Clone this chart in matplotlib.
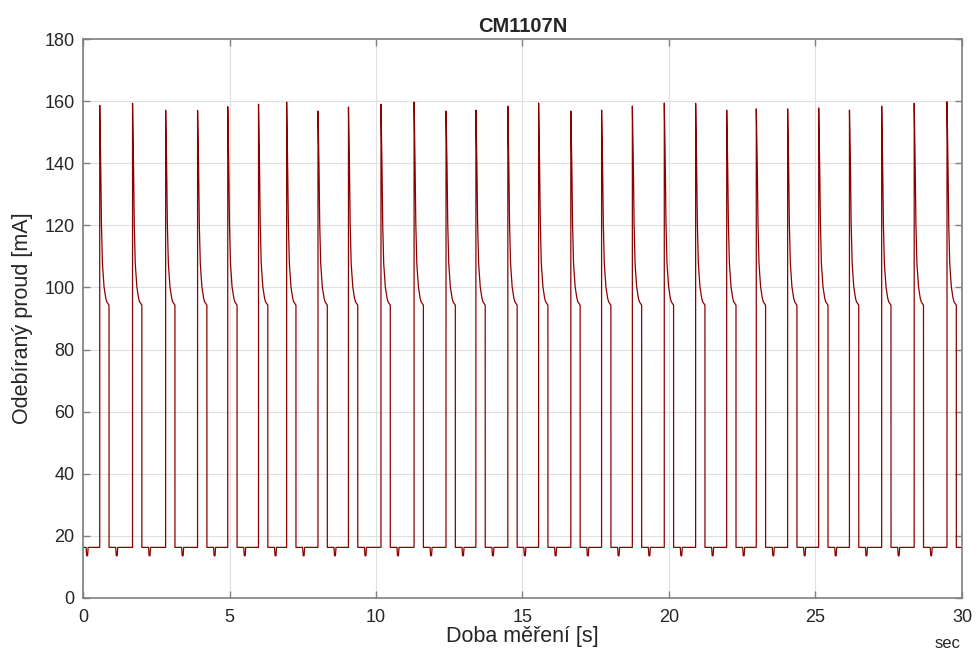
import numpy as np
import matplotlib
matplotlib.use("Agg")
import matplotlib.pyplot as plt

plt.rcParams['font.family'] = ['Liberation Sans', 'DejaVu Sans']

# pulse start times [s] and peak currents [mA]
pulse_t = [0.57, 1.69, 2.82, 3.91, 4.94, 5.99, 6.95, 8.02, 9.06, 10.17,
           11.30, 12.39, 13.41, 14.50, 15.55, 16.65, 17.70, 18.75, 19.84, 20.91,
           21.97, 22.98, 24.05, 25.11, 26.16, 27.26, 28.37, 29.49]
pulse_peak = [158.6, 159.3, 157.1, 157.0, 158.2, 159.0, 159.7, 156.8, 158.1, 159.0,
              159.7, 156.8, 157.1, 158.4, 159.4, 156.8, 157.1, 158.4, 159.4, 159.3,
              157.1, 157.5, 157.5, 157.8, 157.1, 158.4, 159.3, 159.8]

# shape of one pulse after the peak (time after rise [s], current [mA])
decay_dt = [0.034, 0.058, 0.092, 0.147, 0.205, 0.239, 0.317]
decay_mA = [138.9, 120.7, 107.8, 100.2, 96.6, 95.4, 94.3]

base_mA = 16.3
dip_mA = 13.6
dip_after = 0.58   # dip position after each pulse rise [s]
first_dip = 0.14

# assemble the trace
t, y = [0.0], [base_mA]

def add_dip(tc):
    t.extend([tc - 0.035, tc - 0.015, tc + 0.015, tc + 0.035])
    y.extend([base_mA, dip_mA, dip_mA, base_mA])

add_dip(first_dip)
for t0, pk in zip(pulse_t, pulse_peak):
    t.extend([t0 - 0.001, t0])
    y.extend([base_mA, pk])
    t.extend([t0 + d for d in decay_dt])
    y.extend(decay_mA)
    t.append(t0 + decay_dt[-1] + 0.001)
    y.append(base_mA)
    if t0 + dip_after < 30:
        add_dip(t0 + dip_after)
t.append(30.0)
y.append(base_mA)

fig = plt.figure(figsize=(9.78, 6.58), dpi=100)
ax = fig.add_axes([0.0849, 0.0912, 0.8987, 0.8495])
ax.plot(t, y, color='#8b0000', lw=0.9)

ax.set_xlim(0, 30)
ax.set_ylim(0, 180)
ax.set_xticks(np.arange(0, 31, 5))
ax.set_yticks(np.arange(0, 181, 20))
ax.grid(True, color='#e0e0e0', lw=0.8)
ax.set_axisbelow(True)
for s in ax.spines.values():
    s.set_color('#808080')
    s.set_linewidth(1.2)
ax.tick_params(direction='in', length=5, colors='#808080', labelcolor='#262626',
               labelsize=13, top=True, right=True, width=1.0)
ax.tick_params(axis='y', pad=6)
ax.tick_params(axis='x', pad=8)
ax.set_title('CM1107N', fontsize=14.5, fontweight='bold', color='#262626', pad=5)
ax.set_xlabel('Doba měření [s]', fontsize=15.5, color='#262626', labelpad=0)
ax.set_ylabel('Odebíraný proud [mA]', fontsize=15.5, color='#262626', labelpad=8)
fig.text(948 / 978, 1 - 643 / 658, 'sec', fontsize=12, color='#262626',
         ha='center', va='center')

fig.savefig('out.png', dpi=100)
